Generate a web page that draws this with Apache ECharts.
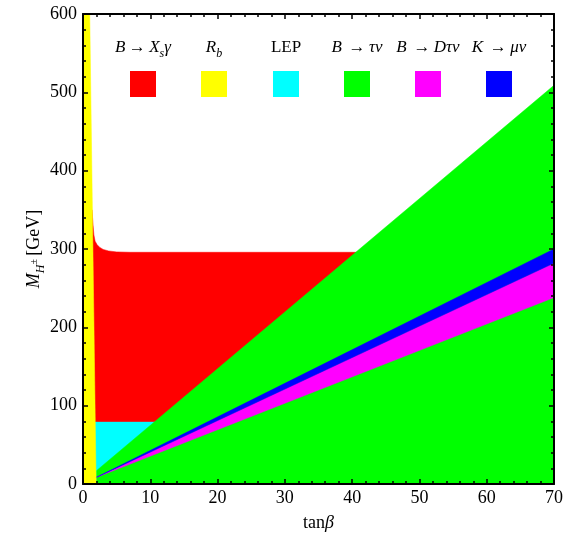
<!DOCTYPE html>
<html>
<head>
<meta charset="utf-8">
<script src="https://cdn.jsdelivr.net/npm/echarts@6/dist/echarts.min.js"></script>
<style>html,body{margin:0;padding:0;background:#fff}#c{width:566px;height:536px}</style>
</head>
<body>
<div id="c"></div>
<script>
// ---- data (tanβ, M_H± in GeV) ----
var xTicks = [0, 10, 20, 30, 40, 50, 60, 70];
var yTicks = [0, 100, 200, 300, 400, 500, 600];
var seriesNames = ['B → Xsγ', 'Rb', 'LEP', 'B → τν', 'B → Dτν', 'K → μν'];
var seriesColors = ['#FF0000', '#FFFF00', '#00FFFF', '#00FF00', '#FF00FF', '#0000FF'];

// B -> Xs gamma excluded region
var bsgRegion = [[0, 0], [0, 350], [1.35, 350], [1.42, 340], [1.5, 330], [1.62, 318], [1.8, 310], [2.1, 305.5], [2.5, 302], [3.0, 299.5], [3.8, 297.5], [5, 296.3], [7, 295.8], [70, 295.8], [70, 0]];
// R_b excluded region
var rbRegion = [[0, 0], [1.95, 0], [1.0, 600], [0, 600]];
// LEP bound
var lepRegion = [[0, 0], [0, 79], [30, 79], [30, 0]];
// B -> tau nu excluded region
var btnRegion = [[2, 0], [2, 17], [70, 509], [70, 0]];
// B -> D tau nu excluded band
var bdtnRegion = [[2, 8.5], [70, 282], [70, 238]];
// K -> mu nu excluded band
var kmnRegion = [[2, 8.5], [70, 300], [70, 282]];

// drawing order (bottom to top)
var regions = [
  {name: seriesNames[0], color: seriesColors[0], pts: bsgRegion},
  {name: seriesNames[2], color: seriesColors[2], pts: lepRegion},
  {name: seriesNames[3], color: seriesColors[3], pts: btnRegion},
  {name: seriesNames[4], color: seriesColors[4], pts: bdtnRegion},
  {name: seriesNames[5], color: seriesColors[5], pts: kmnRegion},
  {name: seriesNames[1], color: seriesColors[1], pts: rbRegion}
];

var FONT = 'Liberation Serif';

function polySeries(r, i) {
  return {
    type: 'custom',
    name: r.name,
    z: 2 + i,
    clip: true,
    silent: true,
    data: r.pts,
    encode: {x: 0, y: 1},
    renderItem: function (params, api) {
      if (params.dataIndex !== 0) return;
      var pts = r.pts.map(function (p) { return api.coord(p); });
      return {type: 'polygon', shape: {points: pts}, style: {fill: r.color, stroke: r.color, lineWidth: 0.5}};
    }
  };
}

var legendRich = {
  n: {fontFamily: FONT, fontSize: 17, color: '#000', lineHeight: 24},
  i: {fontFamily: FONT, fontSize: 17, fontStyle: 'italic', color: '#000', lineHeight: 24},
  s: {fontFamily: FONT, fontSize: 12, fontStyle: 'italic', color: '#000', lineHeight: 12, verticalAlign: 'bottom'}
};
var legendTexts = [
  '{i|B} {n|→} {i|X}{s|s}{i|γ}',
  '{i|R}{s|b}',
  '{n|LEP}',
  '{i|B}  {n|→} {i|τν}',
  '{i|B}  {n|→} {i|Dτν}',
  '{i|K}  {n|→} {i|μν}'
];
var legendCx = [143, 214, 286, 357, 428, 499];

var graphics = [];
for (var k = 0; k < seriesNames.length; k++) {
  graphics.push({
    type: 'text', x: legendCx[k], y: 48, z: 100,
    style: {text: legendTexts[k], rich: legendRich, align: 'center', verticalAlign: 'middle'}
  });
  graphics.push({
    type: 'rect', z: 100,
    shape: {x: legendCx[k] - 13, y: 71, width: 26, height: 26},
    style: {fill: seriesColors[k]}
  });
}

var axisLabelStyle = {fontFamily: FONT, fontSize: 18, color: '#000'};
var tickStyle = {show: true, inside: true, length: 5, lineStyle: {color: '#000', width: 1.5}};
var minorStyle = {show: true, splitNumber: 5, length: 3, lineStyle: {color: '#000', width: 1.5}};

var chart = echarts.init(document.getElementById('c'), null, {renderer: 'canvas'});
chart.setOption({
  animation: false,
  backgroundColor: '#fff',
  grid: {left: 83, right: 12, top: 14, bottom: 52, show: false, containLabel: false, outerBoundsMode: 'none'},
  xAxis: [{
    type: 'value', min: xTicks[0], max: xTicks[xTicks.length - 1], interval: 10,
    name: '{n|tan}{i|β}', nameLocation: 'middle', nameGap: 30,
    nameTextStyle: {rich: {n: {fontFamily: FONT, fontSize: 18, color: '#000'}, i: {fontFamily: FONT, fontSize: 18, fontStyle: 'italic', color: '#000'}}},
    axisLine: {show: true, onZero: false, lineStyle: {color: '#000', width: 2}},
    axisTick: tickStyle, minorTick: minorStyle,
    axisLabel: Object.assign({margin: 5}, axisLabelStyle),
    splitLine: {show: false}, z: 50
  }, {
    type: 'value', position: 'top', min: xTicks[0], max: xTicks[xTicks.length - 1], interval: 10,
    axisLine: {show: true, onZero: false, lineStyle: {color: '#000', width: 2}},
    axisTick: tickStyle, minorTick: minorStyle, axisLabel: {show: false},
    splitLine: {show: false}, z: 50
  }],
  yAxis: [{
    type: 'value', min: yTicks[0], max: yTicks[yTicks.length - 1], interval: 100,
    name: '{i|M}{s|H}{p|±} {n|[GeV]}', nameLocation: 'middle', nameGap: 36, nameRotate: 90,
    nameMoveOverlap: false,
    nameTextStyle: {rich: {
      n: {fontFamily: FONT, fontSize: 18, color: '#000', lineHeight: 26},
      i: {fontFamily: FONT, fontSize: 18, fontStyle: 'italic', color: '#000', lineHeight: 26},
      s: {fontFamily: FONT, fontSize: 12, fontStyle: 'italic', color: '#000', lineHeight: 14, verticalAlign: 'bottom'},
      p: {fontFamily: FONT, fontSize: 10, color: '#000', lineHeight: 20, verticalAlign: 'middle'}
    }},
    axisLine: {show: true, onZero: false, lineStyle: {color: '#000', width: 2}},
    axisTick: tickStyle, minorTick: minorStyle,
    axisLabel: Object.assign({margin: 6}, axisLabelStyle),
    splitLine: {show: false}, z: 50
  }, {
    type: 'value', position: 'right', min: yTicks[0], max: yTicks[yTicks.length - 1], interval: 100,
    axisLine: {show: true, onZero: false, lineStyle: {color: '#000', width: 2}},
    axisTick: tickStyle, minorTick: minorStyle, axisLabel: {show: false},
    splitLine: {show: false}, z: 50
  }],
  graphic: graphics,
  series: regions.map(polySeries)
});
</script>
</body>
</html>
